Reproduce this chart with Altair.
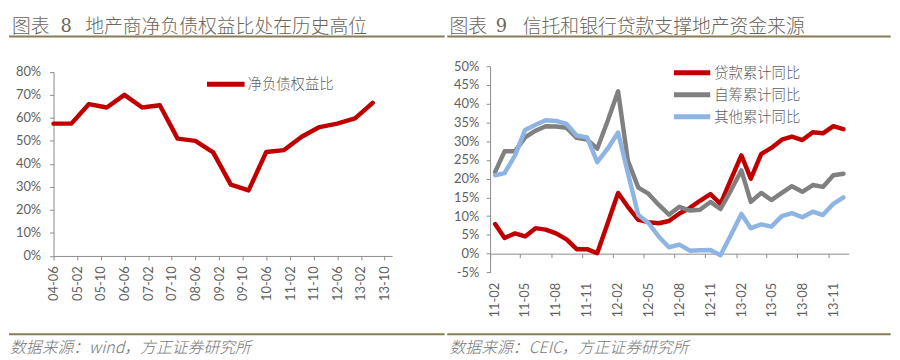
import altair as alt
import pandas as pd

# ---------------- data ----------------
# Left panel: developers' net debt-to-equity ratio (%), semi-annual
left_periods = ["2004-06", "2004-12", "2005-06", "2005-12", "2006-06", "2006-12",
                "2007-06", "2007-12", "2008-06", "2008-12", "2009-06", "2009-12",
                "2010-06", "2010-12", "2011-06", "2011-12", "2012-06", "2012-12", "2013-06"]
net_debt_equity = [57.5, 57.5, 66.0, 64.5, 70.0, 64.5, 65.5, 51.0, 50.0, 45.0, 31.0, 28.5,
                   45.2, 46.0, 51.8, 56.0, 57.5, 59.8, 66.5]
left_tick_periods = ["2004-06", "2005-02", "2005-10", "2006-06", "2007-02", "2007-10",
                     "2008-06", "2009-02", "2009-10", "2010-06", "2011-02", "2011-10",
                     "2012-06", "2013-02", "2013-10"]
left_y_ticks = [0, 10, 20, 30, 40, 50, 60, 70, 80]

# Right panel: cumulative YoY growth of funding sources (%), monthly
right_periods = ["2011-02", "2011-03", "2011-04", "2011-05", "2011-06", "2011-07", "2011-08",
                 "2011-09", "2011-10", "2011-11", "2011-12", "2012-01", "2012-02", "2012-03",
                 "2012-04", "2012-05", "2012-06", "2012-07", "2012-08", "2012-09", "2012-10",
                 "2012-11", "2012-12", "2013-01", "2013-02", "2013-03", "2013-04", "2013-05",
                 "2013-06", "2013-07", "2013-08", "2013-09", "2013-10", "2013-11", "2013-12"]
loan_yoy = [7.9, 4.2, 5.4, 4.6, 6.8, 6.4, 5.4, 3.8, 1.2, 1.2, 0.1, 8.1, 16.2, 12.5,
            9.0, 8.4, 8.1, 8.7, 10.7, 12.2, 14.1, 15.9, 13.3, 19.8, 26.2, 20.0, 26.6,
            28.2, 30.4, 31.2, 30.3, 32.4, 32.1, 34.0, 33.2]
self_yoy = [21.8, 27.3, 27.3, 31.0, 32.8, 34.0, 33.9, 33.6, 30.9, 30.4, 28.0, 35.4, 43.3,
            24.8, 17.6, 16.0, 13.0, 10.4, 12.5, 11.5, 11.7, 13.8, 11.9, 16.9, 22.2, 13.8,
            16.2, 14.3, 16.2, 18.0, 16.5, 18.3, 17.8, 20.9, 21.3]
other_yoy = [20.9, 21.5, 26.2, 33.0, 34.4, 35.6, 35.4, 34.6, 31.5, 31.0, 24.4, 28.0, 32.3,
             21.5, 10.3, 8.2, 4.5, 1.7, 2.4, 0.8, 0.9, 1.0, -0.4, 5.0, 10.6, 6.8, 7.8,
             7.2, 10.0, 10.8, 9.7, 11.2, 10.3, 13.3, 15.0]
series_names = ["贷款累计同比", "自筹累计同比", "其他累计同比"]
series_colors = ["#C00000", "#808080", "#8DB4E2"]
right_tick_periods = ["2011-02", "2011-05", "2011-08", "2011-11", "2012-02", "2012-05",
                      "2012-08", "2012-11", "2013-02", "2013-05", "2013-08", "2013-11"]
right_y_ticks = [-5, 0, 5, 10, 15, 20, 25, 30, 35, 40, 45, 50]

# ---------------- tables ----------------
left_df = pd.DataFrame({"date": pd.to_datetime(left_periods), "value": net_debt_equity})

rows = []
for name, vals in zip(series_names, [loan_yoy, self_yoy, other_yoy]):
    for p, v in zip(right_periods, vals):
        rows.append({"date": pd.Timestamp(p + "-01") + pd.Timedelta(days=15),
                     "series": name, "value": v})
right_df = pd.DataFrame(rows)
one = pd.DataFrame({"k": [0]})


def dt(s, day=1):
    y, m = s.split("-")
    return alt.DateTime(year=int(y), month=int(m), date=day)


# ---------------- styling ----------------
CJK = "Noto Sans CJK SC"
LAT = "Lato"
AXIS_C = "#8c8c8c"
LABEL_C = "#5f5f5f"
TITLE_C = "#6a655a"
SEP_C = "#8a7b57"
SRC_C = "#767676"

W1, W2, H = 342, 362.4, 208.3

axis_common = dict(grid=False, domainColor=AXIS_C, tickColor=AXIS_C, tickSize=4,
                   labelColor=LABEL_C, labelFont=LAT, labelFontSize=13, title=None,
                   labelOverlap=False, labelFlush=False)


def hrule(x1, x2, y, color, width):
    return alt.Chart(one).mark_rule(color=color, strokeWidth=width).encode(
        x=alt.value(x1), x2=alt.value(x2), y=alt.value(y))


def txt(text, x, y, size, color, font=CJK, style="normal", weight=300):
    return alt.Chart(one).mark_text(text=text, align="left", baseline="middle",
                                    fontSize=size, color=color, font=font,
                                    fontStyle=style, fontWeight=weight).encode(
        x=alt.value(x), y=alt.value(y))


def frame(x1, x2):
    return alt.Chart(one).mark_rect(opacity=0).encode(
        x=alt.value(x1), x2=alt.value(x2), y=alt.value(-57), y2=alt.value(295))


# ---------------- left panel ----------------
left_line = alt.Chart(left_df).mark_line(
    color="#C00000", strokeWidth=4.5, strokeJoin="round", strokeCap="round").encode(
    x=alt.X("date:T",
            scale=alt.Scale(domain=[dt("2004-06"), dt("2013-12", 18)]),
            axis=alt.Axis(values=[dt(s) for s in left_tick_periods], format="%y-%m",
                          labelAngle=270, offset=-16.6, labelPadding=6, **axis_common)),
    y=alt.Y("value:Q",
            scale=alt.Scale(domain=[0, 80], range=[191.7, 5.7]),
            axis=alt.Axis(values=left_y_ticks, labelExpr="datum.value + '%'",
                          labelPadding=9, **axis_common)),
)

left = alt.layer(
    frame(-46, 396),
    left_line,
    hrule(155, 193, 18.3, "#C00000", 5),
    txt("净负债权益比", 196, 19.3, 14.5, LABEL_C),
    hrule(-45, 395, -30, SEP_C, 2),
    hrule(-45, 395, 270.7, SEP_C, 2),
    txt("图表", -42, -40, 19, TITLE_C),
    txt("8", 7, -40, 18, TITLE_C, font="DejaVu Serif", weight=400),
    txt("地产商净负债权益比处在历史高位", 32, -40, 19, TITLE_C),
    txt("数据来源：wind，方正证券研究所", -44, 285, 16, SRC_C, style="italic"),
).properties(width=W1, height=H)

# ---------------- right panel ----------------
right_lines = alt.Chart(right_df).mark_line(
    strokeWidth=4.5, strokeJoin="round", strokeCap="round").encode(
    x=alt.X("date:T",
            scale=alt.Scale(domain=[dt("2011-02"), dt("2014-01")]),
            axis=alt.Axis(values=[dt(s) for s in right_tick_periods], format="%y-%m",
                          labelAngle=270, offset=-18.94, labelPadding=25, labelOffset=5,
                          **axis_common)),
    y=alt.Y("value:Q",
            scale=alt.Scale(domain=[-5, 50]),
            axis=alt.Axis(values=right_y_ticks, labelExpr="datum.value + '%'",
                          labelPadding=7.5, **axis_common)),
    color=alt.Color("series:N", scale=alt.Scale(domain=series_names, range=series_colors),
                    legend=None),
    detail="series:N",
)

legend_layers = []
for i, (name, col) in enumerate(zip(series_names, series_colors)):
    yy = 6.7 + i * 22.2
    legend_layers.append(hrule(185.7, 222.4, yy, col, 5))
    legend_layers.append(txt(name, 226.4, yy + 1, 14.5, LABEL_C))

right = alt.layer(
    frame(-44.3, 405.7),
    right_lines,
    *legend_layers,
    hrule(-43.3, 404.7, -30, SEP_C, 2),
    hrule(-43.3, 404.7, 270.7, SEP_C, 2),
    txt("图表", -41, -40, 19, TITLE_C),
    txt("9", 5.7, -40, 18, TITLE_C, font="DejaVu Serif", weight=400),
    txt("信托和银行贷款支撑地产资金来源", 33, -40, 19, TITLE_C),
    txt("数据来源：CEIC，方正证券研究所", -41, 285, 16, SRC_C, style="italic"),
).properties(width=W2, height=H)

chart = alt.hconcat(left, right, spacing=0).properties(
    padding=0, background="white").configure_view(stroke=None)

chart.save("out.html", embed_options={"renderer": "svg", "actions": False})
